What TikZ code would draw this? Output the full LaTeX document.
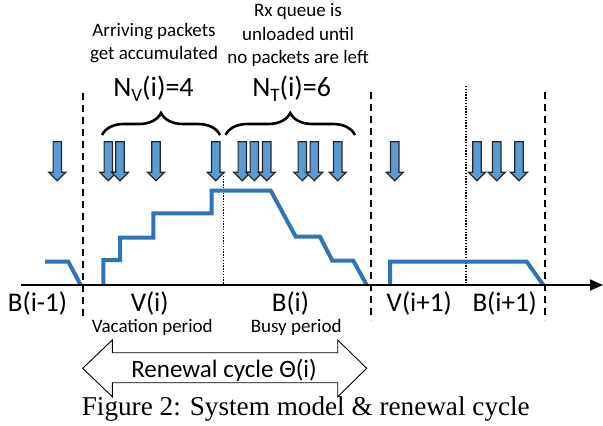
\documentclass[tikz,border=0pt]{standalone}
\usepackage{fontspec}
\setmainfont{Carlito}
\newfontfamily\capfont{Liberation Serif}
\usetikzlibrary{arrows.meta,decorations.pathreplacing}
\definecolor{qblue}{HTML}{2E75B6}
\definecolor{pfill}{HTML}{5B9BD5}
\tikzset{
  biglbl/.style={font=\fontsize{27}{32}\selectfont, inner sep=0pt, anchor=base},
  midlbl/.style={font=\fontsize{28}{32}\selectfont, inner sep=0pt, anchor=base},
  smalllbl/.style={font=\fontsize{19}{23}\selectfont, inner sep=0pt, anchor=base},
  queue/.style={draw=qblue, line width=4pt},
  pkt/.style={draw=black!85, fill=pfill, line width=1.2pt, line join=miter},
  cycleline/.style={black, line width=2pt, dash pattern=on 7pt off 5pt},
  phaseline/.style={black, line width=1.4pt, dash pattern=on 1.4pt off 1.4pt},
  bracestyle/.style={draw=black, line width=2.6pt, decorate, decoration={brace, amplitude=22pt}},
  axisline/.style={black, line width=1.7pt, -{Triangle[length=13pt,width=11pt]}},
  blockarrow/.style={draw=black, line width=0.9pt, fill=white}
}
\newcommand{\packet}[2]{%
  \draw[pkt] (#1-4.2,141.7) -- (#1+4.2,141.7) -- (#1+4.2,172.3) -- (#1+8.4,172.3)
    -- (#1,180.7) -- (#1-8.4,172.3) -- (#1-4.2,172.3) -- cycle;
  \coordinate (#2) at (#1,180.7);}
\begin{document}
\begin{tikzpicture}[x=1pt,y=-1pt]
\useasboundingbox (0,0) rectangle (603,426);

% top texts
\node[smalllbl] (arrA) at (154,36.7) {Arriving packets};
\node[smalllbl] (arrB) at (154,59.3) {get accumulated};
\node[smalllbl] (rxA) at (298,16.5) {Rx queue is};
\node[smalllbl] (rxB) at (298,40) {unloaded until};
\node[smalllbl] (rxC) at (298,63.3) {no packets are left};
\node[midlbl] (nv) at (153.5,96) {N\raisebox{-5pt}{\fontsize{19}{19}\selectfont V}(i)=4};
\node[midlbl] (nt) at (291.7,96) {N\raisebox{-5pt}{\fontsize{19}{19}\selectfont T}(i)=6};

% braces
\coordinate (bvL) at (102,135);
\coordinate (bvR) at (220,135);
\coordinate (btL) at (225.5,135);
\coordinate (btR) at (355,135);
\draw[bracestyle] (bvL) -- (bvR);
\draw[bracestyle] (btL) -- (btR);

% cycle boundaries
\coordinate (c1t) at (82.5,93);  \coordinate (c1b) at (82.5,320);
\coordinate (c2t) at (370.7,92); \coordinate (c2b) at (370.7,320);
\coordinate (c3t) at (545,92);   \coordinate (c3b) at (545,320);
\draw[cycleline] (c1t) -- (c1b);
\draw[cycleline] (c2t) -- (c2b);
\draw[cycleline] (c3t) -- (c3b);
\coordinate (p1t) at (223.3,173); \coordinate (p1b) at (223.3,285);
\coordinate (p2t) at (466,86);    \coordinate (p2b) at (466,283);
\draw[phaseline] (p1t) -- (p1b);
\draw[phaseline] (p2t) -- (p2b);

% packets
\packet{57.3}{k1}
\packet{108.3}{k2}
\packet{120}{k3}
\packet{156}{k4}
\packet{215.7}{k5}
\packet{242.3}{k6}
\packet{254.3}{k7}
\packet{266.7}{k8}
\packet{302.3}{k9}
\packet{314.3}{k10}
\packet{337.7}{k11}
\packet{394.7}{k12}
\packet{477}{k13}
\packet{496.7}{k14}
\packet{519}{k15}

% queue length
\draw[queue] (45,261.7) -- (68.3,261.7) -- (80.7,285);
\draw[queue] (103.3,285) -- (103.3,260) -- (120,260) -- (120,237.7) -- (153.3,237.7)
  -- (153.3,213.3) -- (211.5,213.3) -- (211.5,190.5) -- (270.7,190.5) -- (295.7,236.7)
  -- (320,236.7) -- (332.3,260.7) -- (353.3,260.7) -- (366.7,285);
\draw[queue] (390,285) -- (390,261.7) -- (526.7,261.7) -- (543.3,285);

% time axis
\coordinate (ax0) at (21,285);
\coordinate (ax1) at (603,285);
\draw[axisline] (ax0) -- (ax1);

% period labels
\node[biglbl] (bprev) at (37.5,311.7) {B(i-1)};
\node[biglbl] (vi) at (149.7,311.7) {V(i)};
\node[biglbl] (bi) at (290.5,311.7) {B(i)};
\node[biglbl] (vnext) at (419.2,311.7) {V(i+1)};
\node[biglbl] (bnext) at (504.7,311.7) {B(i+1)};
\node[smalllbl] (vac) at (152.3,332.7) {Vacation period};
\node[smalllbl] (busy) at (296.2,332.7) {Busy period};

% renewal cycle block arrow
\draw[blockarrow] (82.7,368.3) -- (112.3,340) -- (112.3,352.7) -- (337.7,352.7) -- (337.7,340)
  -- (366.7,368.3) -- (337.7,396.7) -- (337.7,382.7) -- (112.3,382.7) -- (112.3,396.7) -- cycle;
\node[font=\fontsize{25}{30}\selectfont, inner sep=0pt, anchor=base] (ren) at (224,377.3) {Renewal cycle Θ(i)};

% caption
\node[font=\capfont\fontsize{27.2}{32}\selectfont, inner sep=0pt, anchor=base] (cap) at (305.8,415) {Figure 2: System model \& renewal cycle};
\end{tikzpicture}
\end{document}
